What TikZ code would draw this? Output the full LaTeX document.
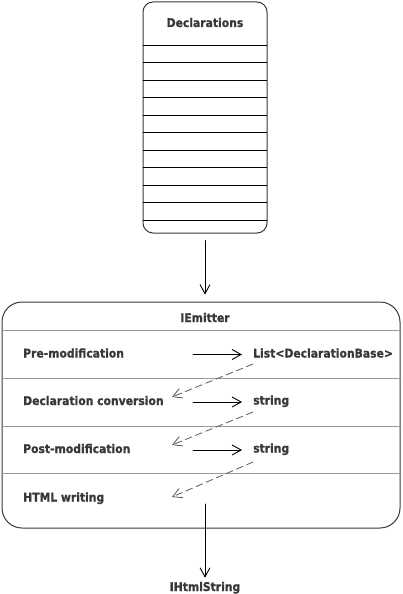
\documentclass[tikz,border=0pt]{standalone}
\usepackage{fontspec}
\setmainfont{DejaVu Sans}
\newfontfamily\lblfont{DejaVu Sans Condensed}[BoldFeatures={FakeBold=1}]
\usepackage{tikz}
\usetikzlibrary{arrows.meta}
\definecolor{txtgray}{rgb}{0.22,0.22,0.22}
\definecolor{sepgray}{rgb}{0.6,0.6,0.6}
\definecolor{dashgray}{rgb}{0.35,0.35,0.35}
\tikzset{lbl/.style={font=\lblfont\fontsize{12}{14}\selectfont\bfseries,text=txtgray,inner sep=0pt,anchor=base west},
  flow/.style={->,line width=0.9pt},
  back/.style={->,color=dashgray,line width=0.8pt,dash pattern=on 7pt off 4pt}}

\begin{document}
\begin{tikzpicture}[line cap=round,line join=round,>={Straight Barb[length=9pt,width=10pt]},x=1pt,y=-1pt]
\useasboundingbox (0,0) rectangle (402,594);

% the declarations store
\node (decl) [draw=txtgray,line width=1pt,rounded corners=10pt,minimum width=124pt,minimum height=231pt,inner sep=0pt] at (205,117.5) {};
\node (decltitle) [lbl,anchor=base] at (205,27) {Declarations};
\draw (143,45)-- (267,45);
\draw (143,62.5)-- (267,62.5);
\draw (143,80)-- (267,80);
\draw (143,97.5)-- (267,97.5);
\draw (143,115)-- (267,115);
\draw (143,132.5)-- (267,132.5);
\draw (143,150)-- (267,150);
\draw (143,167.5)-- (267,167.5);
\draw (143,185)-- (267,185);
\draw (143,202.5)-- (267,202.5);
\draw (143,220)-- (267,220);

% the emitter
\node (emit) [draw=txtgray,line width=1pt,rounded corners=20pt,minimum width=398pt,minimum height=226pt,inner sep=0pt] at (201,415) {};
\node (emittitle) [lbl,anchor=base] at (205,322) {IEmitter};
\draw [color=sepgray,line width=1pt] (2,330)-- (400,330);
\draw [color=sepgray,line width=1pt] (2,378)-- (400,378);
\draw [color=sepgray,line width=1pt] (2,426)-- (400,426);
\draw [color=sepgray,line width=1pt] (2,473)-- (400,473);

\draw [flow,shorten <=7pt,shorten >=7pt] (decl.south) -- (decl.south |- emit.north);

% stages
\node (premod) [lbl] at (23,357.5) {Pre-modification};
\node (conv) [lbl] at (23,405) {Declaration conversion};
\node (postmod) [lbl] at (23,453) {Post-modification};
\node (html) [lbl] at (23,501.5) {HTML writing};
\node (list) [lbl] at (253,357.5) {List<DeclarationBase>};
\node (strA) [lbl] at (253,404.5) {string};
\node (strB) [lbl] at (253,452.5) {string};
\node (ihtml) [lbl,anchor=base] at (205,591) {IHtmlString};

\coordinate (outA) at (193,354.5);
\coordinate (outB) at (193,402);
\coordinate (outC) at (193,450);
\coordinate (retA) at (253,364);
\coordinate (retB) at (253,412);
\coordinate (retC) at (253,462);
\coordinate (inB) at (172,397);
\coordinate (inC) at (172,445);
\coordinate (inD) at (172,497);
\coordinate (hout) at (205,504);

\draw [flow,shorten >=11pt] (outA) -- (outA -| list.west);
\draw [flow,shorten >=11pt] (outB) -- (outB -| strA.west);
\draw [flow,shorten >=11pt] (outC) -- (outC -| strB.west);
\draw [back] (retA) -- (inB);
\draw [back] (retB) -- (inC);
\draw [back] (retC) -- (inD);
\draw [flow,shorten >=4pt] (hout) -- (ihtml.north);

\end{tikzpicture}
\end{document}
